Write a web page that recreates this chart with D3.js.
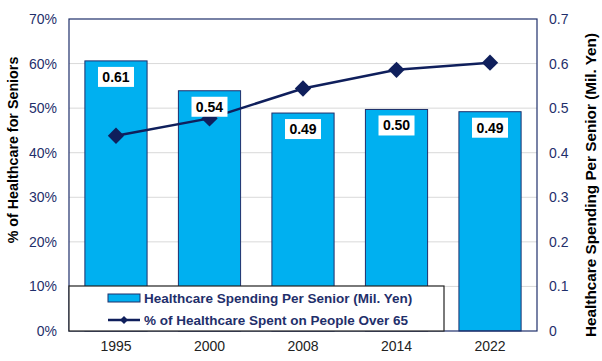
<!DOCTYPE html>
<html>
<head>
<meta charset="utf-8">
<script src="https://cdn.jsdelivr.net/npm/d3@7"></script>
<style>
  body { margin: 0; background: #fff; }
  text { font-family: Arial, "Liberation Sans", sans-serif; }
</style>
</head>
<body>
<div id="chart"></div>
<script>
const years = ['1995', '2000', '2008', '2014', '2022'];
const spending = [0.606, 0.539, 0.489, 0.497, 0.492];
const spendingLabels = ['0.61', '0.54', '0.49', '0.50', '0.49'];
const seniorShare = [0.438, 0.477, 0.544, 0.586, 0.602];
const leftTicks = [0, 0.1, 0.2, 0.3, 0.4, 0.5, 0.6, 0.7];
const rightTicks = [0, 0.1, 0.2, 0.3, 0.4, 0.5, 0.6, 0.7];

const width = 602, height = 361;
const plot = { left: 69, right: 537, top: 19, bottom: 331 };
const navy = '#1f2f6b';

const svg = d3.select('#chart')
  .append('svg')
  .attr('width', width)
  .attr('height', height);

const x = d3.scaleBand()
  .domain(years)
  .range([plot.left, plot.right])
  .paddingInner(0.335)
  .paddingOuter(0.17);

const yLeft = d3.scaleLinear().domain([0, 0.7]).range([plot.bottom, plot.top]);
const yRight = d3.scaleLinear().domain([0, 0.7]).range([plot.bottom, plot.top]);

// gridlines
svg.append('g')
  .selectAll('line')
  .data(leftTicks.slice(1, -1))
  .join('line')
  .attr('x1', plot.left)
  .attr('x2', plot.right)
  .attr('y1', d => yLeft(d))
  .attr('y2', d => yLeft(d))
  .attr('stroke', '#d9d9d9')
  .attr('stroke-width', 1);

// bars
svg.append('g')
  .selectAll('rect')
  .data(years)
  .join('rect')
  .attr('x', d => x(d))
  .attr('y', (d, i) => yRight(spending[i]))
  .attr('width', x.bandwidth())
  .attr('height', (d, i) => plot.bottom - yRight(spending[i]))
  .attr('fill', '#00b0f0')
  .attr('stroke', navy)
  .attr('stroke-width', 1);

// line
const line = d3.line()
  .x((d, i) => x(years[i]) + x.bandwidth() / 2)
  .y(d => yLeft(d));

svg.append('path')
  .datum(seniorShare)
  .attr('d', line)
  .attr('fill', 'none')
  .attr('stroke', '#0f1f5c')
  .attr('stroke-width', 2.5);

svg.append('g')
  .selectAll('path')
  .data(seniorShare)
  .join('path')
  .attr('d', d3.symbol().type(d3.symbolDiamond2).size(170))
  .attr('transform', (d, i) => `translate(${x(years[i]) + x.bandwidth() / 2},${yLeft(d)})`)
  .attr('fill', '#0f1f5c');

// bar value labels
const labels = svg.append('g');
years.forEach(function(yr, i) {
  const cx = x(yr) + x.bandwidth() / 2;
  const cy = yRight(spending[i]) + 16;
  labels.append('rect')
    .attr('x', cx - 18)
    .attr('y', cy - 10)
    .attr('width', 36)
    .attr('height', 20)
    .attr('fill', '#fff');
  labels.append('text')
    .attr('x', cx)
    .attr('y', cy + 5)
    .attr('text-anchor', 'middle')
    .attr('font-size', '14px')
    .attr('font-weight', 'bold')
    .attr('fill', '#000')
    .text(spendingLabels[i]);
});

// plot border
svg.append('rect')
  .attr('x', plot.left)
  .attr('y', plot.top)
  .attr('width', plot.right - plot.left)
  .attr('height', plot.bottom - plot.top)
  .attr('fill', 'none')
  .attr('stroke', navy)
  .attr('stroke-width', 1.2);

// left axis
const leftAxis = svg.append('g')
  .attr('transform', `translate(${plot.left},0)`)
  .call(d3.axisLeft(yLeft).tickValues(leftTicks).tickFormat(d3.format('.0%')).tickSize(0).tickPadding(12));
leftAxis.select('.domain').remove();
leftAxis.selectAll('text')
  .attr('font-size', '14px')
  .attr('font-family', 'Arial, "Liberation Sans", sans-serif')
  .attr('fill', navy);

// right axis
const rightAxis = svg.append('g')
  .attr('transform', `translate(${plot.right},0)`)
  .call(d3.axisRight(yRight).tickValues(rightTicks).tickFormat(d => d === 0 ? '0' : d3.format('.1f')(d)).tickSize(0).tickPadding(12));
rightAxis.select('.domain').remove();
rightAxis.selectAll('text')
  .attr('font-size', '14px')
  .attr('font-family', 'Arial, "Liberation Sans", sans-serif')
  .attr('fill', navy);

// x axis
const xAxis = svg.append('g')
  .attr('transform', `translate(0,${plot.bottom})`)
  .call(d3.axisBottom(x).tickSize(0).tickPadding(10));
xAxis.select('.domain').remove();
xAxis.selectAll('text')
  .attr('font-size', '14px')
  .attr('font-family', 'Arial, "Liberation Sans", sans-serif')
  .attr('fill', '#222');

// axis titles
svg.append('text')
  .attr('transform', 'translate(18,150) rotate(-90)')
  .attr('text-anchor', 'middle')
  .attr('font-size', '14.3px')
  .attr('font-weight', 'bold')
  .attr('fill', '#000')
  .text('% of Healthcare for Seniors');

svg.append('text')
  .attr('transform', 'translate(596,185) rotate(-90)')
  .attr('text-anchor', 'middle')
  .attr('font-size', '15.3px')
  .attr('font-weight', 'bold')
  .attr('fill', '#000')
  .text('Healthcare Spending Per Senior (Mil. Yen)');

// legend
const legend = svg.append('g');
legend.append('rect')
  .attr('x', plot.left)
  .attr('y', 286)
  .attr('width', 375)
  .attr('height', plot.bottom - 286)
  .attr('fill', '#fff')
  .attr('stroke', '#222')
  .attr('stroke-width', 1.2);

legend.append('rect')
  .attr('x', 108)
  .attr('y', 294)
  .attr('width', 32)
  .attr('height', 8)
  .attr('fill', '#00b0f0')
  .attr('stroke', navy);
legend.append('text')
  .attr('x', 144)
  .attr('y', 303)
  .attr('font-size', '13.5px')
  .attr('font-weight', 'bold')
  .attr('fill', navy)
  .text('Healthcare Spending Per Senior (Mil. Yen)');

legend.append('line')
  .attr('x1', 108)
  .attr('x2', 140)
  .attr('y1', 320)
  .attr('y2', 320)
  .attr('stroke', '#0f1f5c')
  .attr('stroke-width', 2.5);
legend.append('path')
  .attr('d', d3.symbol().type(d3.symbolDiamond2).size(40))
  .attr('transform', 'translate(124,320)')
  .attr('fill', '#0f1f5c');
legend.append('text')
  .attr('x', 144)
  .attr('y', 325)
  .attr('font-size', '13.5px')
  .attr('font-weight', 'bold')
  .attr('fill', navy)
  .text('% of Healthcare Spent on People Over 65');
</script>
</body>
</html>
